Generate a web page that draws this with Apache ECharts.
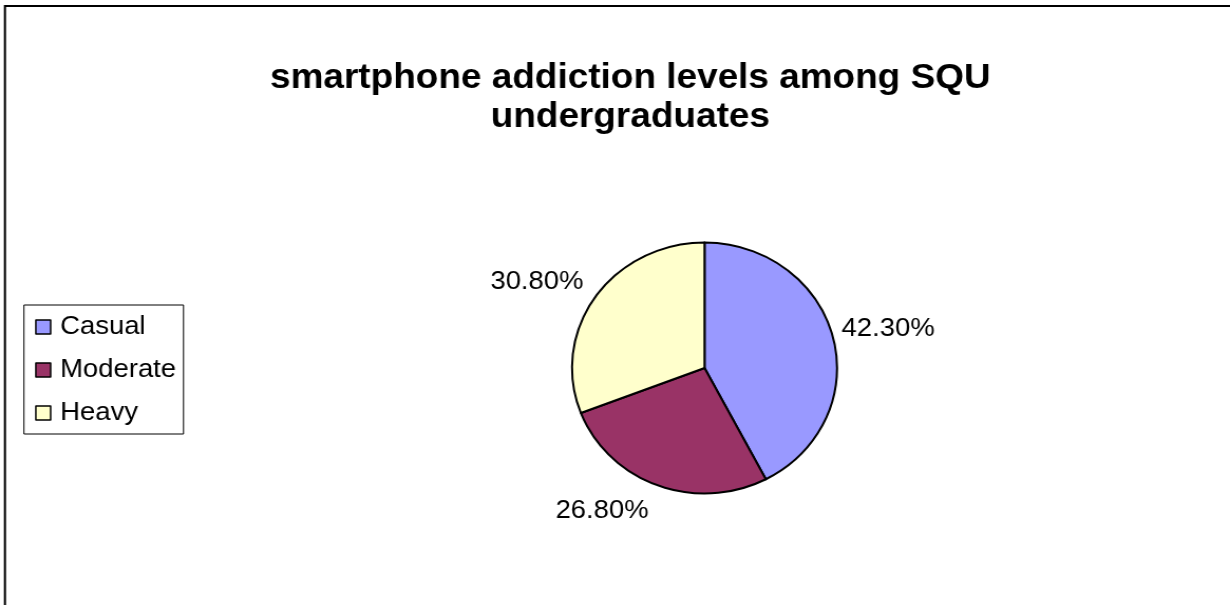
<!DOCTYPE html>
<html>
<head>
<meta charset="utf-8">
<script src="https://cdn.jsdelivr.net/npm/echarts@6/dist/echarts.min.js"></script>
<style>
  html, body { margin: 0; padding: 0; background: #fff; overflow: hidden; }
  #chart { width: 1165px; height: 605px; transform: scaleX(1.0558); transform-origin: 0 0; }
</style>
</head>
<body>
<div id="chart"></div>
<script>
// ---- data ----
const categories = ['Casual', 'Moderate', 'Heavy'];
const values = [42.3, 26.8, 30.8];
const colors = ['#9999FF', '#993366', '#FFFFCC'];
const titleText = 'smartphone addiction levels among SQU\nundergraduates';

// ---- label placement tuning (layout only) ----
const labelLen = [37, 27, 27];
const labelLen2 = [-33, -6, -16];

const FONT = '"Liberation Sans", Arial, sans-serif';

const chart = echarts.init(document.getElementById('chart'));

const seriesData = categories.map((name, i) => ({
  name: name,
  value: values[i],
  itemStyle: { color: colors[i] },
  labelLine: { show: false, length: labelLen[i], length2: labelLen2[i] }
}));

chart.setOption({
  backgroundColor: '#ffffff',
  animation: false,
  title: {
    text: titleText,
    left: 592,
    top: 54,
    textAlign: 'center',
    textStyle: {
      fontFamily: FONT,
      fontWeight: 'bold',
      fontSize: 35,
      lineHeight: 39,
      color: '#000'
    }
  },
  legend: {
    orient: 'vertical',
    left: 22.7,
    top: 305,
    padding: [9, 7, 8, 10.5],
    itemWidth: 14,
    itemHeight: 14,
    itemGap: 17,
    icon: 'rect',
    borderColor: '#000',
    borderWidth: 1,
    itemStyle: { borderColor: '#000', borderWidth: 1.5 },
    textStyle: {
      fontFamily: FONT,
      fontSize: 26,
      lineHeight: 26,
      color: '#000',
      padding: [0, 0, 0, 4]
    },
    data: categories
  },
  graphic: [{
    type: 'rect',
    shape: { x: 4.7, y: 6, width: 1400, height: 800 },
    style: { fill: 'none', stroke: '#000', lineWidth: 2 },
    silent: true
  }],
  series: [{
    type: 'pie',
    center: [667.3, 368],
    radius: 125.5,
    startAngle: 90,
    clockwise: true,
    avoidLabelOverlap: false,
    itemStyle: { borderColor: '#000', borderWidth: 2 },
    label: {
      show: true,
      position: 'outside',
      fontFamily: FONT,
      fontSize: 26,
      color: '#000',
      formatter: p => p.value.toFixed(2) + '%'
    },
    labelLine: { show: false },
    emphasis: { disabled: true },
    data: seriesData
  }]
});
</script>
</body>
</html>
